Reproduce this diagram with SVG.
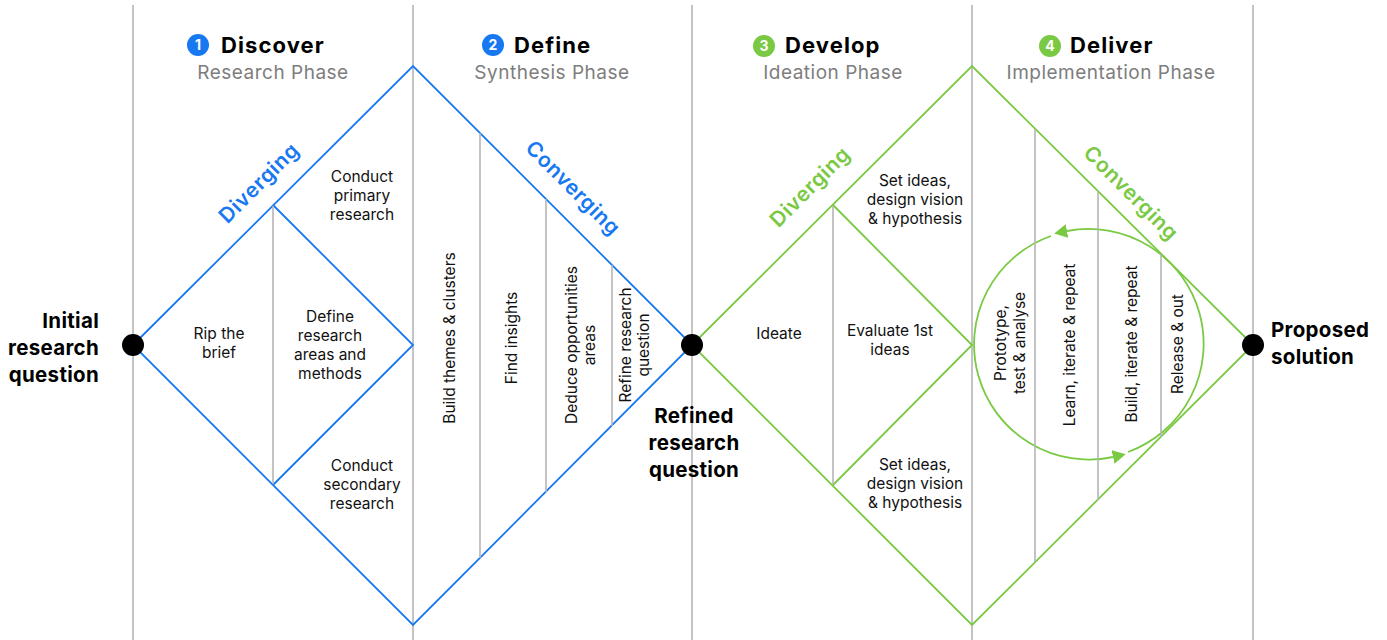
<svg xmlns="http://www.w3.org/2000/svg" width="1387" height="640" viewBox="0 0 1387 640">
  <style>
    .grid { stroke: #b5b5b5; stroke-width: 1.6; fill: none; }
    .blue { stroke: #1778f2; stroke-width: 1.8; fill: none; }
    .green { stroke: #7ac943; stroke-width: 1.8; fill: none; }
    .body { font-family: Inter, "Liberation Sans", sans-serif; font-size: 15.5px; fill: #111; text-anchor: middle; }
    .key { font-family: Inter, "Liberation Sans", sans-serif; font-size: 20.5px; font-weight: 700; fill: #000; letter-spacing: 0.3px; }
    .title { font-family: Inter, "Liberation Sans", sans-serif; font-size: 22px; font-weight: 700; fill: #000; letter-spacing: 1.1px; }
    .sub { font-family: Inter, "Liberation Sans", sans-serif; font-size: 19px; fill: #7d7d7d; text-anchor: middle; letter-spacing: 0.5px; }
    .num { font-family: Inter, "Liberation Sans", sans-serif; font-size: 14px; font-weight: 700; fill: #fff; text-anchor: middle; }
    .mode { font-family: Inter, "Liberation Sans", sans-serif; font-size: 21px; font-weight: 600; text-anchor: middle; letter-spacing: 0.6px; }
    .dot { fill: #000; }
  </style>
  <defs>
    <marker id="arrowGreen" markerUnits="userSpaceOnUse" markerWidth="14" markerHeight="14" refX="0" refY="7" orient="auto">
      <path d="M0,0 L13,7 L0,14 z" fill="#7ac943"/>
    </marker>
  </defs>

  <rect width="1387" height="640" fill="#fff"/>

  <!-- phase dividers -->
  <g id="dividers">
    <line class="grid" x1="133" y1="5" x2="133" y2="640"/>
    <line class="grid" x1="413" y1="5" x2="413" y2="640"/>
    <line class="grid" x1="692" y1="5" x2="692" y2="640"/>
    <line class="grid" x1="972" y1="5" x2="972" y2="640"/>
    <line class="grid" x1="1253" y1="5" x2="1253" y2="640"/>
  </g>

  <!-- phase headers -->
  <g id="header-discover">
    <circle cx="198" cy="45" r="11" fill="#1778f2"/>
    <text class="num" x="198" y="50">1</text>
    <text class="title" x="221" y="53">Discover</text>
    <text class="sub" x="273" y="79">Research Phase</text>
  </g>
  <g id="header-define">
    <circle cx="493" cy="45" r="11" fill="#1778f2"/>
    <text class="num" x="493" y="50">2</text>
    <text class="title" x="514" y="53">Define</text>
    <text class="sub" x="552" y="79">Synthesis Phase</text>
  </g>
  <g id="header-develop">
    <circle cx="764" cy="46" r="11" fill="#7ac943"/>
    <text class="num" x="764" y="51">3</text>
    <text class="title" x="785" y="53">Develop</text>
    <text class="sub" x="833" y="79">Ideation Phase</text>
  </g>
  <g id="header-deliver">
    <circle cx="1050" cy="46" r="11" fill="#7ac943"/>
    <text class="num" x="1050" y="51">4</text>
    <text class="title" x="1070" y="53">Deliver</text>
    <text class="sub" x="1111" y="79">Implementation Phase</text>
  </g>

  <!-- diamonds and the iteration loop -->
  <g id="connectors">
    <path class="blue" d="M133,345 L413,66 L692,345 L413,625 Z"/>
    <path class="blue" d="M273,205 L413,345 L273,485"/>
    <path class="green" d="M692,345 L972,66 L1253,345 L972,625 Z"/>
    <path class="green" d="M833,205 L972,345 L833,485"/>
    <path class="green" d="M1128,452 A115,115 0 0,0 1067,231" marker-end="url(#arrowGreen)"/>
    <path class="green" d="M1051,236 A115,115 0 0,0 1113,457" marker-end="url(#arrowGreen)"/>
  </g>

  <!-- step dividers -->
  <g id="steps">
    <line class="grid" x1="273" y1="206" x2="273" y2="484"/>
    <line class="grid" x1="480" y1="133" x2="480" y2="558"/>
    <line class="grid" x1="546" y1="199" x2="546" y2="492"/>
    <line class="grid" x1="612" y1="265" x2="612" y2="426"/>
    <line class="grid" x1="833" y1="206" x2="833" y2="484"/>
    <line class="grid" x1="1035" y1="129" x2="1035" y2="562"/>
    <line class="grid" x1="1098" y1="191" x2="1098" y2="500"/>
    <line class="grid" x1="1161" y1="254" x2="1161" y2="437"/>
  </g>

  <!-- mode labels -->
  <g id="mode-labels">
    <text class="mode" fill="#1778f2" transform="translate(264,188) rotate(-45)">Diverging</text>
    <text class="mode" fill="#1778f2" transform="translate(568,193) rotate(45)">Converging</text>
    <text class="mode" fill="#7ac943" transform="translate(815,192) rotate(-45)">Diverging</text>
    <text class="mode" fill="#7ac943" transform="translate(1126,198) rotate(45)">Converging</text>
  </g>

  <!-- milestones -->
  <g id="start">
    <circle class="dot" cx="133" cy="345" r="11"/>
    <text class="key" text-anchor="end"><tspan x="99" y="328">Initial</tspan><tspan x="99" y="355">research</tspan><tspan x="99" y="382">question</tspan></text>
  </g>
  <g id="midpoint">
    <circle class="dot" cx="692" cy="345" r="11"/>
    <text class="key" text-anchor="middle"><tspan x="694" y="423">Refined</tspan><tspan x="694" y="450">research</tspan><tspan x="694" y="477">question</tspan></text>
  </g>
  <g id="end">
    <circle class="dot" cx="1253" cy="345" r="11"/>
    <text class="key"><tspan x="1271" y="337">Proposed</tspan><tspan x="1271" y="364">solution</tspan></text>
  </g>

  <!-- discover steps -->
  <g id="conduct-primary">
    <text class="body"><tspan x="362" y="182">Conduct</tspan><tspan x="362" y="201">primary</tspan><tspan x="362" y="220">research</tspan></text>
  </g>
  <g id="rip-brief">
    <text class="body"><tspan x="219" y="339">Rip the</tspan><tspan x="219" y="358">brief</tspan></text>
  </g>
  <g id="define-areas">
    <text class="body"><tspan x="330" y="322">Define</tspan><tspan x="330" y="341">research</tspan><tspan x="330" y="360">areas and</tspan><tspan x="330" y="379">methods</tspan></text>
  </g>
  <g id="conduct-secondary">
    <text class="body"><tspan x="362" y="471">Conduct</tspan><tspan x="362" y="490">secondary</tspan><tspan x="362" y="509">research</tspan></text>
  </g>

  <!-- define steps -->
  <g id="build-themes">
    <text class="body" transform="translate(455,338) rotate(-90)">Build themes &amp; clusters</text>
  </g>
  <g id="find-insights">
    <text class="body" transform="translate(517,338) rotate(-90)">Find insights</text>
  </g>
  <g id="deduce-areas">
    <text class="body" transform="translate(577,345) rotate(-90)"><tspan x="0" y="0">Deduce opportunities</tspan><tspan x="0" y="18">areas</tspan></text>
  </g>
  <g id="refine-question">
    <text class="body" transform="translate(631,345) rotate(-90)"><tspan x="0" y="0">Refine research</tspan><tspan x="0" y="18">question</tspan></text>
  </g>

  <!-- develop steps -->
  <g id="set-ideas-top">
    <text class="body"><tspan x="915" y="186">Set ideas,</tspan><tspan x="915" y="205">design vision</tspan><tspan x="915" y="224">&amp; hypothesis</tspan></text>
  </g>
  <g id="ideate">
    <text class="body" x="779" y="339">Ideate</text>
  </g>
  <g id="evaluate">
    <text class="body"><tspan x="890" y="336">Evaluate 1st</tspan><tspan x="890" y="355">ideas</tspan></text>
  </g>
  <g id="set-ideas-bottom">
    <text class="body"><tspan x="915" y="470">Set ideas,</tspan><tspan x="915" y="489">design vision</tspan><tspan x="915" y="508">&amp; hypothesis</tspan></text>
  </g>

  <!-- deliver steps -->
  <g id="prototype">
    <text class="body" transform="translate(1006,343) rotate(-90)"><tspan x="0" y="0">Prototype,</tspan><tspan x="0" y="18.5">test &amp; analyse</tspan></text>
  </g>
  <g id="learn">
    <text class="body" transform="translate(1075,345) rotate(-90)">Learn, iterate &amp; repeat</text>
  </g>
  <g id="build">
    <text class="body" transform="translate(1137,344) rotate(-90)">Build, iterate &amp; repeat</text>
  </g>
  <g id="release">
    <text class="body" transform="translate(1183,344) rotate(-90)">Release &amp; out</text>
  </g>
</svg>
